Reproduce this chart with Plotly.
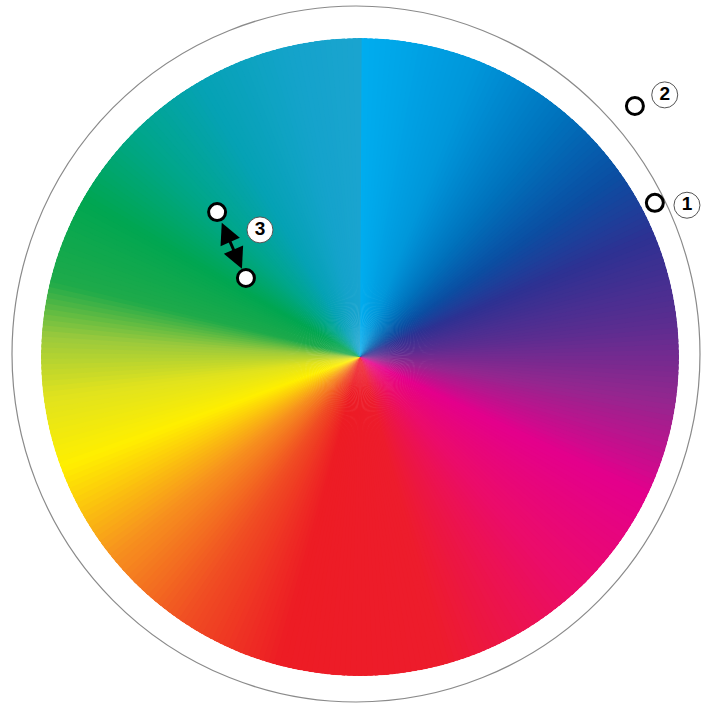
import numpy as np
import plotly.graph_objects as go

# ---- data -----------------------------------------------------------------
# colour wheel: angle (degrees, clockwise from top) -> colour
stop_angles = [0, 22, 40, 55, 68, 84, 98, 116, 138, 165, 195, 214, 232, 250,
               263, 274, 284, 300, 315, 330, 348, 360]
stop_colors = ["#00AEEF", "#0096DA", "#0072BC", "#0B4EA2", "#2E3192", "#5B2D90",
               "#92278F", "#E4008C", "#EB0C6A", "#ED1C2C", "#ED1C24", "#F04E23",
               "#F7931E", "#FFEF00", "#E0E21E", "#9BCA3C", "#1FAA4A", "#00A651",
               "#00A68A", "#05A2B4", "#14A3CB", "#1AA4CF"]

# open circle markers (r in wheel radii, theta in degrees clockwise from top)
marker_names = ["1", "2", "3a", "3b"]
marker_r = [1.043, 1.167, 0.638, 0.435]
marker_theta = [62.4, 47.6, 315.4, 304.7]

# numbered labels
label_text = ["1", "2", "3"]
label_r = [1.130, 1.260, 0.507]
label_theta = [65.1, 49.3, 321.8]

# ---- layout geometry --------------------------------------------------------
W, H = 702, 708
cx, cy, R = 360, 357, 319          # wheel centre / radius in pixels
ring = dict(left=12, right=700, top=6, bottom=702)   # outer thin ring (pixels)

N = 360
wedge_theta = (np.arange(N) + 0.5) * 360.0 / N
colorscale = [[a / 360.0, c] for a, c in zip(stop_angles, stop_colors)]


def to_xy(r, th):
    t = np.deg2rad(np.asarray(th, dtype=float))
    r = np.asarray(r, dtype=float)
    return r * np.sin(t), r * np.cos(t)


fig = go.Figure()

fig.add_trace(go.Barpolar(
    r=np.ones(N), theta=wedge_theta, width=360.0 / N * 1.6,
    marker=dict(color=wedge_theta, colorscale=colorscale, cmin=0, cmax=360,
                line=dict(width=0)),
    hoverinfo="skip", showlegend=False,
))

marker_style = dict(size=17, color="white", line=dict(color="black", width=3))
label_style = dict(size=26, color="white", line=dict(color="#555555", width=1))
label_font = dict(family="Liberation Sans, Arial, sans-serif", size=19, color="black")

# points inside the wheel -> polar subplot (drawn above the wheel)
mi = [i for i, r in enumerate(marker_r) if r <= 1]
mo = [i for i, r in enumerate(marker_r) if r > 1]
li = [i for i, r in enumerate(label_r) if r <= 1]
lo = [i for i, r in enumerate(label_r) if r > 1]

fig.add_trace(go.Scatterpolar(
    r=[marker_r[i] for i in mi], theta=[marker_theta[i] for i in mi],
    mode="markers", cliponaxis=False, marker=marker_style,
    text=[marker_names[i] for i in mi], hoverinfo="text", showlegend=False,
))
fig.add_trace(go.Scatterpolar(
    r=[label_r[i] for i in li], theta=[label_theta[i] for i in li],
    mode="markers+text", cliponaxis=False,
    text=["<b>%s</b>" % label_text[i] for i in li], textposition="middle center",
    textfont=label_font, marker=label_style, hoverinfo="skip", showlegend=False,
))

# points outside the wheel -> cartesian overlay (same scale)
mx, my = to_xy([marker_r[i] for i in mo], [marker_theta[i] for i in mo])
fig.add_trace(go.Scatter(
    x=mx, y=my, mode="markers", cliponaxis=False, marker=marker_style,
    text=[marker_names[i] for i in mo], hoverinfo="text", showlegend=False,
))
lx, ly = to_xy([label_r[i] for i in lo], [label_theta[i] for i in lo])
fig.add_trace(go.Scatter(
    x=lx, y=ly, mode="markers+text", cliponaxis=False,
    text=["<b>%s</b>" % label_text[i] for i in lo], textposition="middle center",
    textfont=label_font, marker=label_style, hoverinfo="skip", showlegend=False,
))

# arrow between markers 3a and 3b
(xa, xb), (ya, yb) = to_xy([marker_r[2], marker_r[3]], [marker_theta[2], marker_theta[3]])
fig.add_annotation(x=xb, y=yb, ax=xa, ay=ya, xref="x", yref="y", axref="x", ayref="y",
                   text="", showarrow=True, arrowhead=2, startarrowhead=2,
                   arrowside="end+start", arrowwidth=3, arrowsize=1.4,
                   arrowcolor="black", standoff=10, startstandoff=10)

fig.add_shape(type="circle", xref="x", yref="y",
              x0=(ring["left"] - cx) / R, x1=(ring["right"] - cx) / R,
              y0=(cy - ring["bottom"]) / R, y1=(cy - ring["top"]) / R,
              line=dict(color="#8a8a8a", width=1.2), layer="below")

fig.update_layout(
    width=W, height=H, margin=dict(l=0, r=0, t=0, b=0),
    paper_bgcolor="white", plot_bgcolor="rgba(0,0,0,0)",
    showlegend=False,
    polar=dict(
        domain=dict(x=[(cx - R) / W, (cx + R) / W], y=[(H - cy - R) / H, (H - cy + R) / H]),
        bgcolor="rgba(0,0,0,0)",
        angularaxis=dict(visible=False, rotation=90, direction="clockwise",
                         showgrid=False, showline=False),
        radialaxis=dict(visible=False, range=[0, 1], showgrid=False, showline=False),
        hole=0,
    ),
    xaxis=dict(visible=False, range=[-cx / R, (W - cx) / R], domain=[0, 1], fixedrange=True),
    yaxis=dict(visible=False, range=[-(H - cy) / R, cy / R], domain=[0, 1], fixedrange=True),
)

fig.write_html("out.html", config={"displayModeBar": False},
               post_script="document.body.style.margin='0';document.body.style.padding='0';"
                           "document.body.style.overflow='hidden';")
